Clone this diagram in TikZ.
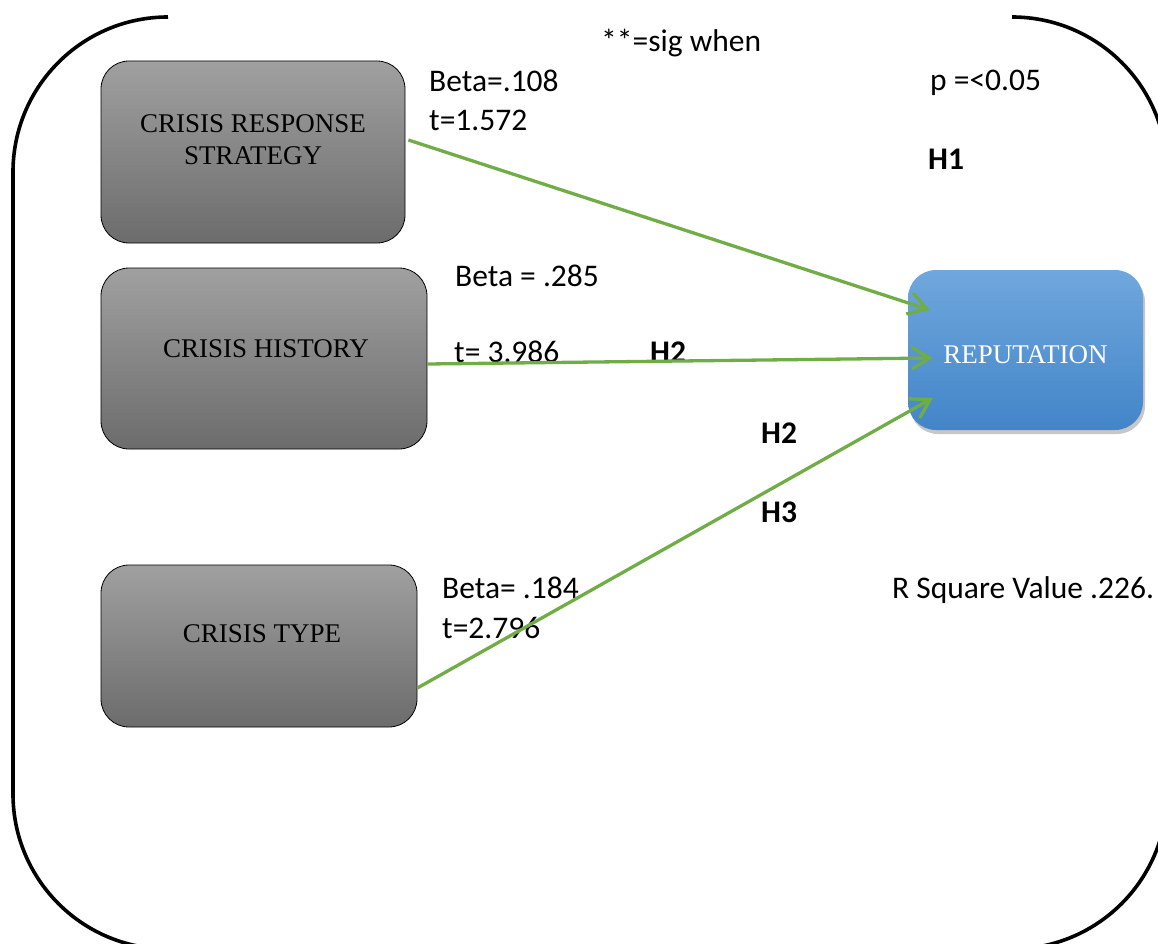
\documentclass[tikz,border=0pt]{standalone}
\usepackage{fontspec}
\setmainfont{Liberation Serif}
\newfontfamily\calibri{Carlito}
\usetikzlibrary{arrows.meta,shadows,calc}
\definecolor{grayTop}{HTML}{A0A0A0}
\definecolor{grayBot}{HTML}{6C6C6C}
\definecolor{blueTop}{HTML}{70A7DD}
\definecolor{blueBot}{HTML}{4285C8}
\definecolor{arrowGreen}{HTML}{70AD47}
\begin{document}
\begin{tikzpicture}[x=1pt,y=-1pt,
  graybox/.style={draw=black, line width=0.8pt, rounded corners=28pt,
    top color=grayTop, bottom color=grayBot, inner sep=0pt},
  bluebox/.style={rounded corners=28pt, top color=blueTop, bottom color=blueBot,
    inner sep=0pt, drop shadow={shadow xshift=2pt, shadow yshift=-4pt, opacity=0.22, fill=black}},
  boxtext/.style={font=\fontsize{27}{32}\selectfont, align=center, inner sep=0pt},
  lbl/.style={font=\calibri\fontsize{31.5}{38}\selectfont, anchor=base west, inner sep=0pt},
  hyp/.style={font=\calibri\bfseries\fontsize{31.5}{38}\selectfont, anchor=base west, inner sep=0pt},
  link/.style={draw=arrowGreen, line width=3.3pt, -{Straight Barb[length=18pt,width=22pt]}},
  frame/.style={draw=black, line width=3.6pt}
]
\useasboundingbox (0,0) rectangle (1158,944);
\clip (0,0) rectangle (1158,944);

% outer frame (open at top)
\draw[frame, rounded corners=155pt] (168,17) -- (13,17) -- (13,949) -- (1167,949) -- (1167,17) -- (1012,17);

% boxes
\node[graybox, minimum width=304pt, minimum height=182pt] (crs) at (253,152) {};
\node[boxtext] (crsT) at ($(crs.center)+(0,-12)$) {CRISIS RESPONSE\\STRATEGY};
\node[graybox, minimum width=326pt, minimum height=181pt] (ch) at (264,358.5) {};
\node[boxtext] (chT) at ($(ch.center)+(2,-10)$) {CRISIS HISTORY};
\node[graybox, minimum width=316pt, minimum height=162pt] (ct) at (259,646) {};
\node[boxtext] (ctT) at ($(ct.center)+(3,-12)$) {CRISIS TYPE};
\node[bluebox, minimum width=235pt, minimum height=160pt] (rep) at (1025.5,350) {};
\node[boxtext, text=white] (repT) at ($(rep.center)+(0,5)$) {REPUTATION};

% labels
\node[lbl] (sig) at (601,52) {**=sig when};
\node[lbl] (b1) at (429,92) {Beta=.108};
\node[lbl] (t1) at (429,131) {t=1.572};
\node[lbl] (p) at (930,91) {p =<0.05};
\node[hyp] (h1) at (928,170) {H1};
\node[lbl] (b2) at (455,286) {Beta = .285};
\node[lbl] (t2) at (454,362) {t= 3.986};
\node[hyp] (h2a) at (650,362) {H2};
\node[hyp] (h2b) at (761,443) {H2};
\node[hyp] (h3) at (761,522) {H3};
\node[lbl] (b3) at (442,598) {Beta= .184};
\node[lbl] (t3) at (442,638) {t=2.796};
\node[lbl] (r2) at (892,598) {R Square Value .226.};

% connectors
\coordinate (s1) at ($(crs.east)+(3,-12)$);
\coordinate (s2) at ($(ch.east)+(0,5.5)$);
\coordinate (s3) at ($(ct.east)+(0,42)$);
\coordinate (e1) at ($(rep.west)+(22,-40)$);
\coordinate (e2) at ($(rep.west)+(25,8)$);
\coordinate (e3) at ($(rep.west)+(25,48)$);
\draw[link] (s1) -- (e1);
\draw[link] (s2) -- (e2);
\draw[link] (s3) -- (e3);
\end{tikzpicture}
\end{document}
